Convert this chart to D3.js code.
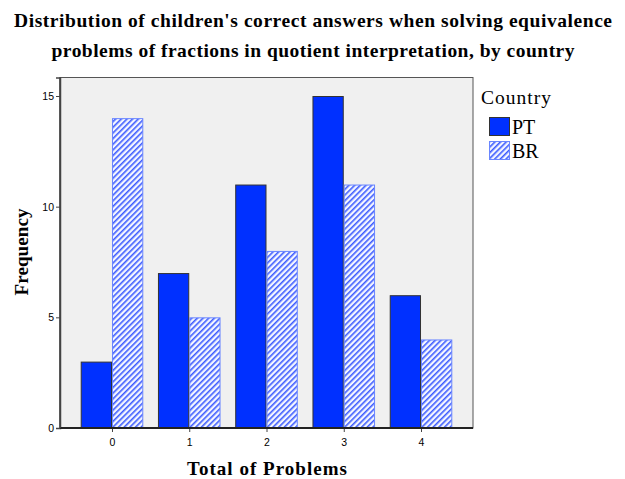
<!DOCTYPE html>
<html>
<head>
<meta charset="utf-8">
<script src="https://cdn.jsdelivr.net/npm/d3@7"></script>
<style>
  html, body { margin: 0; padding: 0; background: #ffffff; }
  svg { display: block; }
</style>
</head>
<body>
<div id="chart"></div>
<script>
// Correct answers per child, grouped by total problems solved
const categories = ["0", "1", "2", "3", "4"];
const seriesNames = ["PT", "BR"];
const ptValues = [3, 7, 11, 15, 6];
const brValues = [14, 5, 8, 11, 4];
const yTicks = [0, 5, 10, 15];

const titleLines = [
  "Distribution of children's correct answers when solving equivalence",
  "problems of fractions in quotient interpretation, by country"
];
const titleWidths = [598, 523];

const W = 625, H = 479;
const plot = { left: 60, top: 77.5, right: 473, bottom: 428 };
const serif = "'Liberation Serif', 'Times New Roman', serif";
const sans = "'Liberation Sans', Arial, sans-serif";

const svg = d3.select("#chart").append("svg")
  .attr("width", W).attr("height", H);

// Hatch pattern for the BR series
const defs = svg.append("defs");
const pat = defs.append("pattern")
  .attr("id", "hatch")
  .attr("patternUnits", "userSpaceOnUse")
  .attr("width", 4).attr("height", 4)
  .attr("patternTransform", "rotate(45)");
pat.append("rect").attr("width", 4).attr("height", 4).attr("fill", "#f4f6ff");
pat.append("rect").attr("x", 0).attr("y", 0).attr("width", 1.6).attr("height", 4)
  .attr("fill", "#3d5cff");

// Title
svg.append("g").selectAll("text").data(titleLines).join("text")
  .attr("x", 313).attr("y", (d, i) => 27 + i * 30)
  .attr("text-anchor", "middle")
  .attr("font-family", serif)
  .attr("font-weight", "bold")
  .attr("font-size", 19.5)
  .attr("textLength", (d, i) => titleWidths[i])
  .attr("lengthAdjust", "spacing")
  .attr("fill", "#000")
  .text(d => d);

// Scales
const x0 = d3.scaleBand().domain(categories)
  .range([plot.left, plot.right])
  .paddingInner(0.19).paddingOuter(0.268);
const x1 = d3.scaleBand().domain(seriesNames)
  .range([0, x0.bandwidth()]).padding(0);
const yMax = (plot.bottom - plot.top) / ((plot.bottom - 96) / 15);
const y = d3.scaleLinear().domain([0, yMax]).range([plot.bottom, plot.top]);

// Plot background
svg.append("rect")
  .attr("x", plot.left).attr("y", plot.top)
  .attr("width", plot.right - plot.left).attr("height", plot.bottom - plot.top)
  .attr("fill", "#f0f0f0").attr("stroke", "#555").attr("stroke-width", 1);

const rows = categories.map((c, i) => ({ cat: c, PT: ptValues[i], BR: brValues[i] }));

const groups = svg.append("g").selectAll("g").data(rows).join("g")
  .attr("transform", d => `translate(${x0(d.cat)},0)`);

groups.selectAll("rect").data(d => seriesNames.map(s => ({ s, v: d[s] }))).join("rect")
  .attr("x", d => x1(d.s) + 0.5)
  .attr("y", d => y(d.v) + 0.5)
  .attr("width", x1.bandwidth() - 1)
  .attr("height", d => y(0) - y(d.v) - 0.5)
  .attr("fill", d => d.s === "PT" ? "#0030ff" : "url(#hatch)")
  .attr("stroke", d => d.s === "PT" ? "#333" : "#6a86ff")
  .attr("stroke-width", 1);

// Axes
const yAxis = d3.axisLeft(y).tickValues(yTicks).tickSize(4).tickPadding(2);
const gy = svg.append("g").attr("transform", `translate(${plot.left},0)`).call(yAxis);
gy.select(".domain").attr("stroke", "#444").attr("stroke-width", 1.5);
gy.selectAll(".tick line").attr("stroke", "#444");
gy.selectAll("text").attr("font-family", sans)
  .attr("font-size", 10.5).attr("fill", "#000");

const xAxis = d3.axisBottom(d3.scalePoint().domain(categories)
    .range([x0(categories[0]) + x0.bandwidth() / 2, x0(categories[categories.length - 1]) + x0.bandwidth() / 2]))
  .tickSize(4).tickPadding(7);
const gx = svg.append("g").attr("transform", `translate(0,${plot.bottom})`).call(xAxis);
gx.select(".domain").remove();
gx.selectAll(".tick line").attr("stroke", "#444");
gx.selectAll("text").attr("font-family", sans)
  .attr("font-size", 10.5).attr("fill", "#000");
svg.append("line")
  .attr("x1", plot.left).attr("x2", plot.right)
  .attr("y1", plot.bottom).attr("y2", plot.bottom)
  .attr("stroke", "#222").attr("stroke-width", 2);
svg.append("line")
  .attr("x1", plot.left).attr("x2", plot.left)
  .attr("y1", plot.top).attr("y2", plot.bottom)
  .attr("stroke", "#444").attr("stroke-width", 1.5);

// Axis titles
svg.append("text")
  .attr("x", 267).attr("y", 475)
  .attr("text-anchor", "middle")
  .attr("font-family", serif)
  .attr("font-weight", "bold").attr("font-size", 19)
  .attr("textLength", 160).attr("lengthAdjust", "spacing")
  .text("Total of Problems");
svg.append("text")
  .attr("transform", `translate(28,252) rotate(-90)`)
  .attr("text-anchor", "middle")
  .attr("font-family", serif)
  .attr("font-weight", "bold").attr("font-size", 19)
  .attr("textLength", 87).attr("lengthAdjust", "spacing")
  .text("Frequency");

// Legend
const legend = svg.append("g").attr("transform", "translate(481,0)");
legend.append("text")
  .attr("x", 0).attr("y", 104)
  .attr("font-family", serif)
  .attr("font-size", 19.5)
  .attr("textLength", 70).attr("lengthAdjust", "spacing")
  .text("Country");
const items = legend.selectAll("g.item").data(seriesNames).join("g")
  .attr("class", "item")
  .attr("transform", (d, i) => `translate(8,${117 + i * 24})`);
items.append("rect")
  .attr("x", 0.5).attr("y", 0.5).attr("width", 20).attr("height", 18)
  .attr("fill", d => d === "PT" ? "#0030ff" : "url(#hatch)")
  .attr("stroke", d => d === "PT" ? "#333" : "#6a86ff");
items.append("text")
  .attr("x", 23).attr("y", 17)
  .attr("font-family", serif)
  .attr("font-size", 20).text(d => d);
</script>
</body>
</html>
